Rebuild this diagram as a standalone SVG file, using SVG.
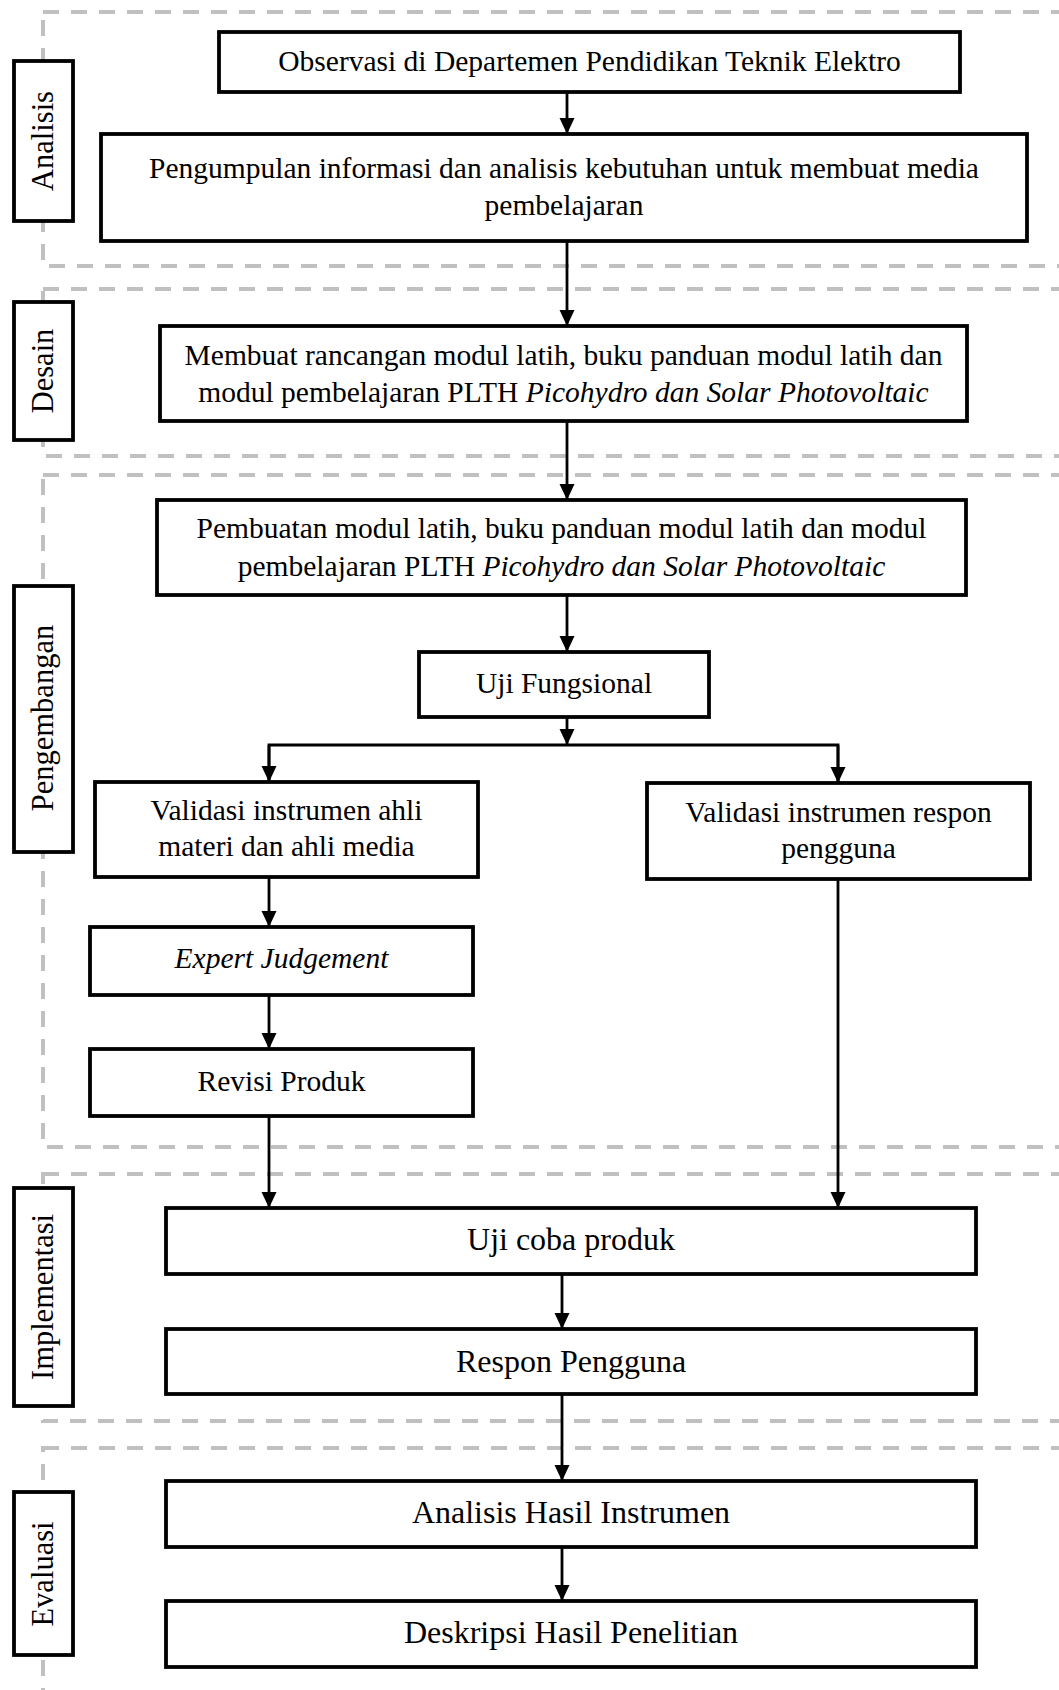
<svg xmlns="http://www.w3.org/2000/svg" width="1059" height="1690" viewBox="0 0 1059 1690">
<style>
.sec{fill:none;stroke:#c0c0c0;stroke-width:4;stroke-dasharray:16 12}
.box{fill:#fff;stroke:#000;stroke-width:3.8}
.lab{fill:#fff;stroke:#000;stroke-width:3.8}
.t{font-family:"Liberation Serif","Times New Roman",serif;font-size:29.5px;fill:#000;text-anchor:middle}
.t2{font-family:"Liberation Serif","Times New Roman",serif;font-size:32px;fill:#000;text-anchor:middle}
.lt{font-family:"Liberation Serif","Times New Roman",serif;font-size:30.5px;fill:#000;text-anchor:middle}
.c{fill:none;stroke:#000;stroke-width:2.8}
</style>
<defs>
<marker id="ah" markerUnits="userSpaceOnUse" markerWidth="17" markerHeight="16" refX="16" refY="7.5" orient="auto">
<path d="M0,0 L16,7.5 L0,15 z" fill="#000"/>
</marker>
</defs>
<rect width="1059" height="1690" fill="#fff"/>
<g id="sections">
<rect class="sec" x="43" y="12" width="1060" height="254"/>
<rect class="sec" x="43" y="289" width="1060" height="167"/>
<rect class="sec" x="43" y="475" width="1060" height="672"/>
<rect class="sec" x="43" y="1174" width="1060" height="247"/>
<rect class="sec" x="43" y="1448" width="1060" height="300"/>
</g>
<g id="connectors">
<line class="c" x1="567" y1="92" x2="567" y2="134" marker-end="url(#ah)"/>
<line class="c" x1="567" y1="241" x2="567" y2="326" marker-end="url(#ah)"/>
<line class="c" x1="567" y1="421" x2="567" y2="500" marker-end="url(#ah)"/>
<line class="c" x1="567" y1="595" x2="567" y2="652" marker-end="url(#ah)"/>
<line class="c" x1="567" y1="717" x2="567" y2="745" marker-end="url(#ah)"/>
<polyline class="c" points="269,782 269,745 838,745 838,782"/>
<line class="c" x1="269" y1="745" x2="269" y2="782" marker-end="url(#ah)"/>
<line class="c" x1="838" y1="745" x2="838" y2="783" marker-end="url(#ah)"/>
<line class="c" x1="269" y1="877" x2="269" y2="927" marker-end="url(#ah)"/>
<line class="c" x1="269" y1="995" x2="269" y2="1049" marker-end="url(#ah)"/>
<line class="c" x1="269" y1="1116" x2="269" y2="1208" marker-end="url(#ah)"/>
<line class="c" x1="838" y1="879" x2="838" y2="1208" marker-end="url(#ah)"/>
<line class="c" x1="562" y1="1274" x2="562" y2="1329" marker-end="url(#ah)"/>
<line class="c" x1="562" y1="1394" x2="562" y2="1481" marker-end="url(#ah)"/>
<line class="c" x1="562" y1="1547" x2="562" y2="1601" marker-end="url(#ah)"/>
</g>
<g id="lab-analisis"><rect class="lab" x="14" y="61" width="59" height="160"/><text class="lt" transform="translate(53,141) rotate(-90)">Analisis</text></g>
<g id="lab-desain"><rect class="lab" x="14" y="302" width="59" height="138"/><text class="lt" transform="translate(53,371) rotate(-90)">Desain</text></g>
<g id="lab-pengembangan"><rect class="lab" x="14" y="586" width="59" height="266"/><text class="lt" transform="translate(53,718) rotate(-90)">Pengembangan</text></g>
<g id="lab-implementasi"><rect class="lab" x="14" y="1188" width="59" height="218"/><text class="lt" transform="translate(53,1297) rotate(-90)">Implementasi</text></g>
<g id="lab-evaluasi"><rect class="lab" x="14" y="1492" width="59" height="163"/><text class="lt" transform="translate(53,1574) rotate(-90)">Evaluasi</text></g>
<g id="n-observasi"><rect class="box" x="219" y="32" width="741" height="60"/><text class="t" x="589.5" y="71">Observasi di Departemen Pendidikan Teknik Elektro</text></g>
<g id="n-pengumpulan"><rect class="box" x="101" y="134" width="926" height="107"/><text class="t" x="564" y="178">Pengumpulan informasi dan analisis kebutuhan untuk membuat media</text><text class="t" x="564" y="215">pembelajaran</text></g>
<g id="n-rancangan"><rect class="box" x="160" y="326" width="807" height="95"/><text class="t" x="563.5" y="365">Membuat rancangan modul latih, buku panduan modul latih dan</text><text class="t" x="563.5" y="402">modul pembelajaran PLTH <tspan font-style="italic">Picohydro dan Solar Photovoltaic</tspan></text></g>
<g id="n-pembuatan"><rect class="box" x="157" y="500" width="809" height="95"/><text class="t" x="561.5" y="538">Pembuatan modul latih, buku panduan modul latih dan modul</text><text class="t" x="561.5" y="576">pembelajaran PLTH <tspan font-style="italic">Picohydro dan Solar Photovoltaic</tspan></text></g>
<g id="n-uji-fungsional"><rect class="box" x="419" y="652" width="290" height="65"/><text class="t" x="564" y="693">Uji Fungsional</text></g>
<g id="n-validasi-ahli"><rect class="box" x="95" y="782" width="383" height="95"/><text class="t" x="286.5" y="820">Validasi instrumen ahli</text><text class="t" x="286.5" y="856">materi dan ahli media</text></g>
<g id="n-validasi-respon"><rect class="box" x="647" y="783" width="383" height="96"/><text class="t" x="838.5" y="822">Validasi instrumen respon</text><text class="t" x="838.5" y="858">pengguna</text></g>
<g id="n-expert"><rect class="box" x="90" y="927" width="383" height="68"/><text class="t" x="281.5" y="968" font-style="italic">Expert Judgement</text></g>
<g id="n-revisi"><rect class="box" x="90" y="1049" width="383" height="67"/><text class="t" x="281.5" y="1091">Revisi Produk</text></g>
<g id="n-uji-coba"><rect class="box" x="166" y="1208" width="810" height="66"/><text class="t2" x="571" y="1250">Uji coba produk</text></g>
<g id="n-respon"><rect class="box" x="166" y="1329" width="810" height="65"/><text class="t2" x="571" y="1372">Respon Pengguna</text></g>
<g id="n-analisis-hasil"><rect class="box" x="166" y="1481" width="810" height="66"/><text class="t2" x="571" y="1523">Analisis Hasil Instrumen</text></g>
<g id="n-deskripsi"><rect class="box" x="166" y="1601" width="810" height="66"/><text class="t2" x="571" y="1643">Deskripsi Hasil Penelitian</text></g>
</svg>
